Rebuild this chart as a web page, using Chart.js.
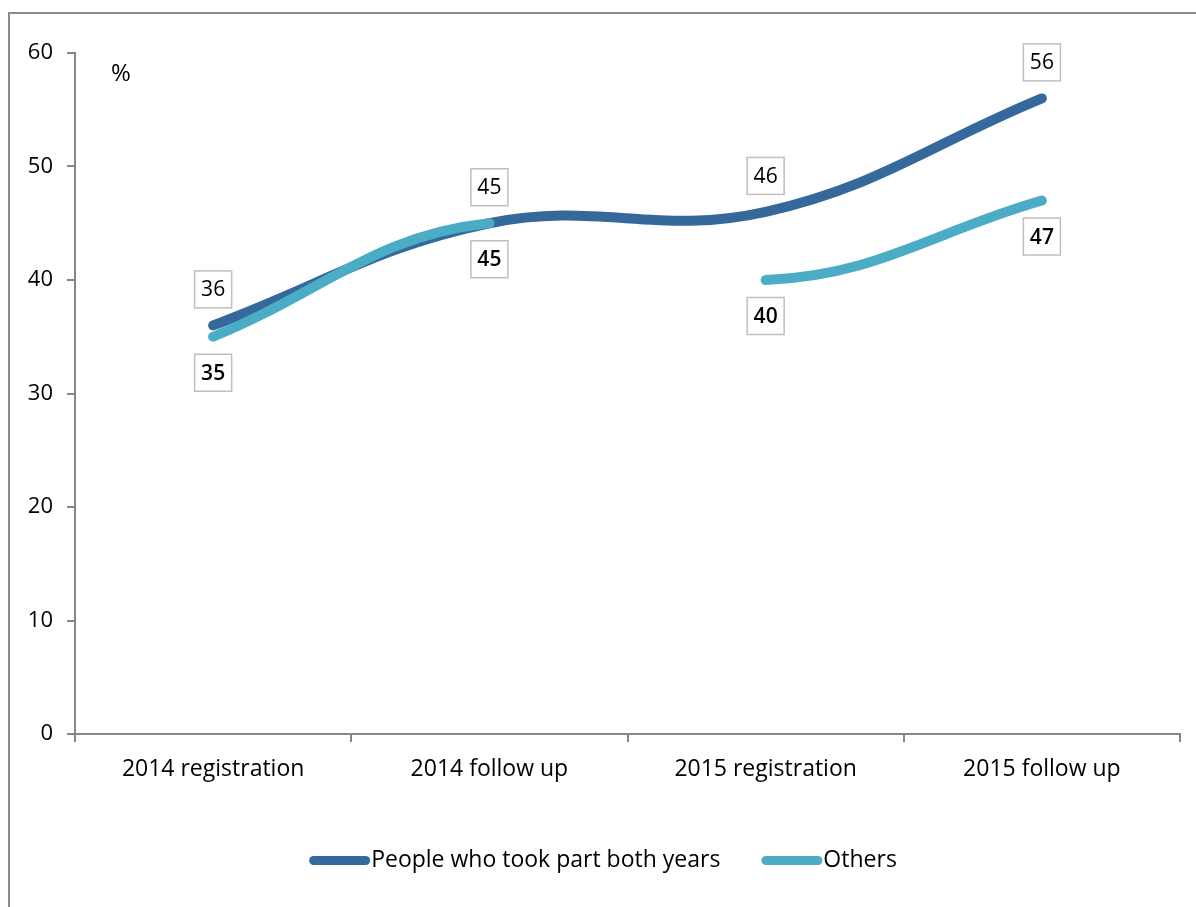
<!DOCTYPE html>
<html>
<head>
<meta charset="utf-8">
<script src="https://cdn.jsdelivr.net/npm/chart.js@4"></script>
<style>
  body { margin: 0; background: #fff; }
  #frame {
    position: absolute;
    left: 8px;
    top: 12px;
    width: 1200px;
    height: 900px;
    border-top: 2px solid #8c8c8c;
    border-left: 2px solid #8c8c8c;
  }
</style>
</head>
<body>
<div id="frame"><canvas id="chart" width="1186" height="893"></canvas></div>
<script>
const categories = ["2014 registration", "2014 follow up", "2015 registration", "2015 follow up"];
const bothYears = [36, 45, 46, 56];
const others = [35, 45, 40, 47];
const hiddenOthersSegment = 1; // no line between 2014 follow up and 2015 registration

const DARK = "#35689b";
const LIGHT = "#4bacc6";
const AXIS = "#868686";
const FONT = "'Open Sans', sans-serif";

// boxed value labels, above or below each point
const valueBoxes = {
  id: "valueBoxes",
  afterDatasetsDraw(chart) {
    const ctx = chart.ctx;
    chart.data.datasets.forEach((ds, i) => {
      const meta = chart.getDatasetMeta(i);
      meta.data.forEach((pt, j) => {
        const v = ds.data[j];
        if (v == null) return;
        const cy = pt.y + (ds.labelSide === "above" ? -36 : 36);
        const size = 37;
        ctx.save();
        ctx.fillStyle = "#fff";
        ctx.fillRect(pt.x - size / 2, cy - size / 2, size, size);
        ctx.strokeStyle = "#bfbfbf";
        ctx.lineWidth = 1.5;
        ctx.strokeRect(pt.x - size / 2, cy - size / 2, size, size);
        ctx.fillStyle = "#000";
        ctx.font = `${ds.labelWeight} 21px ${FONT}`;
        ctx.textAlign = "center";
        ctx.textBaseline = "middle";
        ctx.fillText(String(v), pt.x, cy + 1);
        ctx.restore();
      });
    });
  },
};

// "%" unit inside the plot and the bottom legend
const extras = {
  id: "extras",
  afterDraw(chart) {
    const ctx = chart.ctx;
    const area = chart.chartArea;
    ctx.save();
    ctx.fillStyle = "#000";
    ctx.font = `24px ${FONT}`;
    ctx.textAlign = "left";
    ctx.textBaseline = "middle";
    ctx.fillText("%", area.left + 36, area.top + 21);

    ctx.font = `23px ${FONT}`;
    const swatch = 61, gapText = 1, gapItem = 41;
    const items = chart.data.datasets.map((ds) => ({
      label: ds.label,
      color: ds.borderColor,
      w: swatch + gapText + ctx.measureText(ds.label).width,
    }));
    const total = items.reduce((s, it) => s + it.w, 0) + gapItem * (items.length - 1);
    let x = (chart.width - total) / 2;
    const y = 846.5;
    items.forEach((it) => {
      ctx.fillStyle = it.color;
      ctx.beginPath();
      ctx.roundRect(x, y - 4.5, swatch, 9, 4.5);
      ctx.fill();
      ctx.fillStyle = "#000";
      ctx.fillText(it.label, x + swatch + gapText, y);
      x += it.w + gapItem;
    });
    ctx.restore();
  },
};

new Chart(document.getElementById("chart"), {
  type: "line",
  data: {
    labels: categories,
    datasets: [
      {
        label: "People who took part both years",
        data: bothYears,
        borderColor: DARK,
        borderWidth: 10,
        borderCapStyle: "round",
        pointRadius: 0,
        tension: 0.4,
        order: 1,
        labelSide: "above",
        labelWeight: "normal",
      },
      {
        label: "Others",
        data: others,
        borderColor: LIGHT,
        borderWidth: 10,
        borderCapStyle: "round",
        pointRadius: 0,
        tension: 0.4,
        order: 0,
        labelSide: "below",
        labelWeight: "600",
        segment: {
          borderColor: (c) => (c.p0DataIndex === hiddenOthersSegment ? "rgba(0,0,0,0)" : LIGHT),
        },
      },
    ],
  },
  options: {
    responsive: false,
    animation: false,
    layout: { padding: { top: 39, right: 16, bottom: 0, left: 0 } },
    plugins: {
      legend: { display: false },
      tooltip: { enabled: false },
    },
    scales: {
      x: {
        offset: true,
        afterFit: (scale) => { scale.height = 173; },
        grid: {
          offset: true,
          drawOnChartArea: false,
          drawTicks: true,
          tickLength: 8,
          color: AXIS,
          lineWidth: 2,
        },
        border: { display: true, color: AXIS, width: 2 },
        ticks: {
          color: "#000",
          padding: 14,
          maxRotation: 0,
          font: { family: FONT, size: 23 },
        },
      },
      y: {
        min: 0,
        max: 60,
        afterFit: (scale) => { scale.width = 65; },
        grid: {
          drawOnChartArea: false,
          drawTicks: true,
          tickLength: 8,
          color: AXIS,
          lineWidth: 2,
        },
        border: { display: true, color: AXIS, width: 2 },
        ticks: {
          stepSize: 10,
          color: "#000",
          padding: 14,
          font: { family: FONT, size: 22 },
        },
      },
    },
  },
  plugins: [valueBoxes, extras],
});
</script>
</body>
</html>
